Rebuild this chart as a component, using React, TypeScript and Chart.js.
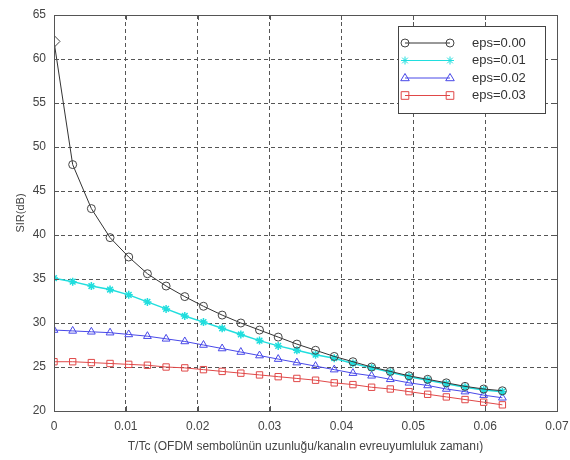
import React, { useEffect, useRef } from "react";
import { Chart, registerables } from "chart.js";

Chart.register(...registerables);

const tValues = [
  0, 0.0026, 0.0052, 0.0078, 0.0104, 0.013, 0.0156, 0.0182, 0.0208, 0.0234, 0.026, 0.0286, 0.0312,
  0.0338, 0.0364, 0.039, 0.0416, 0.0442, 0.0468, 0.0494, 0.052, 0.0546, 0.0572, 0.0598, 0.0624,
];
const eps000 = [
  62, 48, 43, 39.7, 37.5, 35.6, 34.2, 33.0, 31.9, 30.9, 30.0, 29.2, 28.4, 27.6, 26.9, 26.2, 25.6,
  25.0, 24.5, 24.0, 23.6, 23.2, 22.8, 22.5, 22.3,
];
const eps001 = [
  35.1, 34.7, 34.2, 33.8, 33.2, 32.4, 31.6, 30.8, 30.1, 29.4, 28.7, 28.0, 27.4, 26.9, 26.4, 26.0,
  25.4, 24.9, 24.4, 23.9, 23.5, 23.1, 22.7, 22.4, 22.2,
];
const eps002 = [
  29.2, 29.1, 29.0, 28.9, 28.7, 28.5, 28.2, 27.9, 27.5, 27.1, 26.7, 26.3, 25.9, 25.5, 25.1, 24.7,
  24.3, 24.0, 23.6, 23.2, 22.9, 22.5, 22.2, 21.8, 21.5,
];
const eps003 = [
  25.6, 25.6, 25.5, 25.4, 25.3, 25.2, 25.0, 24.9, 24.7, 24.5, 24.3, 24.1, 23.9, 23.7, 23.5, 23.2,
  23.0, 22.7, 22.5, 22.2, 21.9, 21.6, 21.3, 21.0, 20.7,
];
const seriesLabels = ["eps=0.00", "eps=0.01", "eps=0.02", "eps=0.03"];
const xTicks = [0, 0.01, 0.02, 0.03, 0.04, 0.05, 0.06, 0.07];
const yTicks = [20, 25, 30, 35, 40, 45, 50, 55, 60, 65];
const xTitle = "T/Tc (OFDM sembolünün uzunluğu/kanalın evreuyumluluk zamanı)";
const yTitle = "SIR(dB)";

const FONT = "'Liberation Sans', Arial, sans-serif";

function drawMarker(ctx: CanvasRenderingContext2D, style: string, x: number, y: number, r: number) {
  ctx.beginPath();
  if (style === "circle") {
    ctx.arc(x, y, r, 0, Math.PI * 2);
  } else if (style === "rect") {
    const s = r * 0.85;
    ctx.rect(x - s, y - s, 2 * s, 2 * s);
  } else if (style === "triangle") {
    ctx.moveTo(x, y - r);
    ctx.lineTo(x + r * 0.95, y + r * 0.6);
    ctx.lineTo(x - r * 0.95, y + r * 0.6);
    ctx.closePath();
  } else if (style === "star") {
    for (let k = 0; k < 4; k++) {
      const a = (k * Math.PI) / 4;
      ctx.moveTo(x - r * Math.cos(a), y - r * Math.sin(a));
      ctx.lineTo(x + r * Math.cos(a), y + r * Math.sin(a));
    }
  }
  ctx.stroke();
}

const framePlugin = {
  id: "frame",
  afterDraw(chart: any) {
    const { ctx, chartArea } = chart;
    const { left, right, top, bottom } = chartArea;
    ctx.save();
    ctx.strokeStyle = "#555";
    ctx.lineWidth = 1;
    ctx.setLineDash([]);
    ctx.strokeRect(left + 0.5, top + 0.5, right - left, bottom - top);
    const xs = chart.scales.x;
    const ys = chart.scales.y;
    ctx.beginPath();
    xTicks.forEach((v) => {
      const px = Math.round(xs.getPixelForValue(v)) + 0.5;
      ctx.moveTo(px, bottom);
      ctx.lineTo(px, bottom - 5);
      ctx.moveTo(px, top);
      ctx.lineTo(px, top + 5);
    });
    yTicks.forEach((v) => {
      const py = Math.round(ys.getPixelForValue(v)) + 0.5;
      ctx.moveTo(left, py);
      ctx.lineTo(left + 5, py);
      ctx.moveTo(right, py);
      ctx.lineTo(right - 5, py);
    });
    ctx.stroke();

    // legend box
    const bx = 398, by = 26, bw = 147, bh = 87;
    ctx.fillStyle = "#fff";
    ctx.fillRect(bx, by, bw, bh);
    ctx.strokeStyle = "#444";
    ctx.strokeRect(bx + 0.5, by + 0.5, bw, bh);
    chart.data.datasets.forEach((ds: any, i: number) => {
      const yy = by + 17 + i * 17.5;
      ctx.strokeStyle = ds.borderColor;
      ctx.lineWidth = 1;
      ctx.beginPath();
      ctx.moveTo(405, yy);
      ctx.lineTo(450, yy);
      ctx.stroke();
      const style = Array.isArray(ds.pointStyle) ? ds.pointStyle[1] : ds.pointStyle;
      const rad = Array.isArray(ds.pointRadius) ? ds.pointRadius[1] : ds.pointRadius;
      ctx.strokeStyle = ds.pointBorderColor;
      [405, 450].forEach((px) => drawMarker(ctx, style, px, yy, rad));
      ctx.fillStyle = "#333";
      ctx.font = `13px ${FONT}`;
      ctx.textAlign = "left";
      ctx.textBaseline = "middle";
      ctx.fillText(ds.label, 472, yy);
    });
    ctx.restore();
  },
};

export default function App() {
  const ref = useRef<HTMLCanvasElement>(null);
  useEffect(() => {
    document.body.style.margin = "0";
    const mk = (arr: number[]) => arr.map((y, i) => ({ x: tValues[i], y }));
    const chart = new Chart(ref.current!, {
      type: "line",
      data: {
        datasets: [
          {
            label: seriesLabels[0],
            data: mk(eps000),
            borderColor: "#333333",
            backgroundColor: "rgba(0,0,0,0)",
            pointBorderColor: "#444444",
            pointStyle: eps000.map((_, i) => (i === 0 ? "rectRot" : "circle")) as any,
            pointRadius: eps000.map((_, i) => (i === 0 ? 6 : 4)) as any,
            borderWidth: 1,
          },
          {
            label: seriesLabels[1],
            data: mk(eps001),
            borderColor: "#20dede",
            backgroundColor: "#20dede",
            pointBorderColor: "#20dede",
            pointStyle: "star",
            pointRadius: 4,
            borderWidth: 1.5,
          },
          {
            label: seriesLabels[2],
            data: mk(eps002),
            borderColor: "#4848e8",
            backgroundColor: "rgba(0,0,0,0)",
            pointBorderColor: "#4848e8",
            pointStyle: "triangle",
            pointRadius: 4.5,
            borderWidth: 1,
          },
          {
            label: seriesLabels[3],
            data: mk(eps003),
            borderColor: "#e04848",
            backgroundColor: "rgba(0,0,0,0)",
            pointBorderColor: "#e04848",
            pointStyle: "rect",
            pointRadius: 4.5,
            borderWidth: 1,
          },
        ],
      },
      options: {
        responsive: false,
        animation: false,
        layout: { padding: { top: 15, right: 13, left: 0, bottom: 0 } },
        plugins: { legend: { display: false }, tooltip: { enabled: false } },
        elements: { line: { tension: 0 } },
        scales: {
          x: {
            type: "linear",
            min: 0,
            max: 0.07,
            afterBuildTicks: (s: any) => {
              s.ticks = xTicks.map((v) => ({ value: v }));
            },
            afterFit: (s: any) => {
              s.height = 49;
              s.paddingRight = 0;
              s.paddingLeft = 0;
            },
            ticks: {
              color: "#444",
              font: { family: FONT, size: 12 },
              padding: 8,
              maxRotation: 0,
              callback: (v: any) => String(v),
            },
            grid: { color: "#555", lineWidth: 1, drawTicks: false },
            border: { display: false, dash: [4, 3] },
            title: {
              display: true,
              text: xTitle,
              color: "#444",
              font: { family: FONT, size: 12 },
              padding: { top: 8, bottom: 6 },
            },
          },
          y: {
            type: "linear",
            min: 20,
            max: 65,
            afterBuildTicks: (s: any) => {
              s.ticks = yTicks.map((v) => ({ value: v }));
            },
            afterFit: (s: any) => {
              s.width = 54;
              s.paddingTop = 0;
              s.paddingBottom = 0;
            },
            ticks: {
              color: "#444",
              font: { family: FONT, size: 12 },
              padding: 8,
            },
            grid: { color: "#555", lineWidth: 1, drawTicks: false },
            border: { display: false, dash: [4, 3] },
            title: {
              display: true,
              text: yTitle,
              color: "#444",
              font: { family: FONT, size: 11 },
              padding: { top: 14, bottom: 4 },
            },
          },
        },
      },
      plugins: [framePlugin],
    });
    return () => chart.destroy();
  }, []);
  return (
    <div style={{ width: 570, height: 460, background: "#fff" }}>
      <canvas ref={ref} width={570} height={460} />
    </div>
  );
}
